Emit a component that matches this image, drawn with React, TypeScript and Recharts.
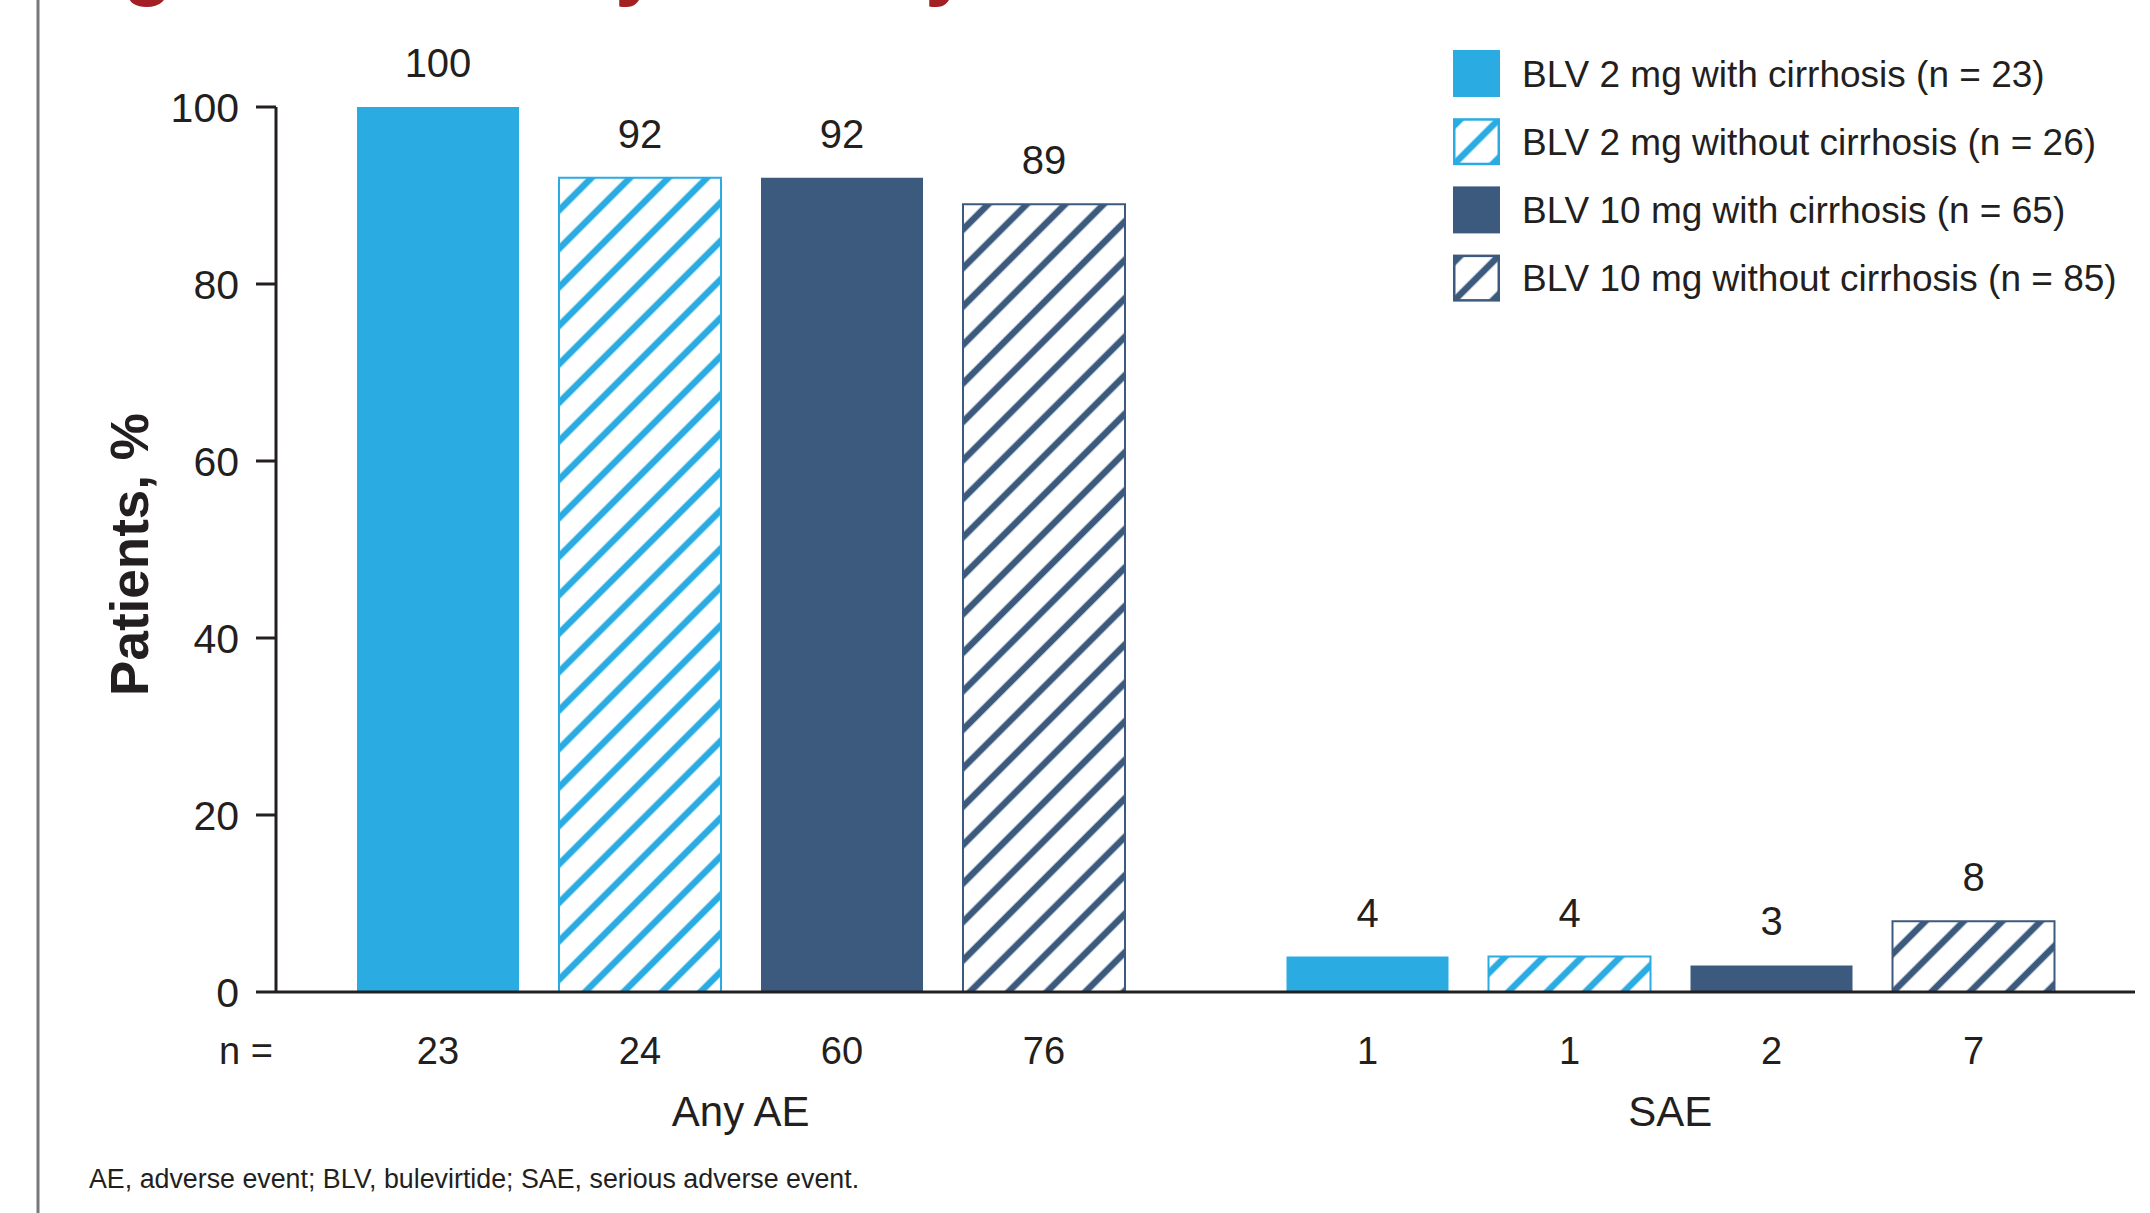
import React from 'react';
import { BarChart, Bar, XAxis, YAxis, LabelList, Legend, Label } from 'recharts';

// Adverse events by bulevirtide dose and cirrhosis status
const categories = ['Any AE', 'SAE'];
const seriesLabels = [
  'BLV 2 mg with cirrhosis (n = 23)',
  'BLV 2 mg without cirrhosis (n = 26)',
  'BLV 10 mg with cirrhosis (n = 65)',
  'BLV 10 mg without cirrhosis (n = 85)',
];
// Patients, %
const blv2WithCirrhosis = [100, 4];
const blv2WithoutCirrhosis = [92, 4];
const blv10WithCirrhosis = [92, 3];
const blv10WithoutCirrhosis = [89, 8];
// Patients with the event (n =)
const nBlv2WithCirrhosis = [23, 1];
const nBlv2WithoutCirrhosis = [24, 1];
const nBlv10WithCirrhosis = [60, 2];
const nBlv10WithoutCirrhosis = [76, 7];
const yTicks = [0, 20, 40, 60, 80, 100];

const LIGHT = '#2AACE2';
const NAVY = '#3C5A7E';
const INK = '#231F20';
const TITLE_RED = '#A31F24';
const FONT = '"Liberation Sans", Arial, Helvetica, sans-serif';

const STRIPE_PERIOD = 27.2;
const STRIPE_WIDTH = 6.5;

const series = [
  { key: 's1', nKey: 'n1', name: seriesLabels[0], color: LIGHT, hatched: false, values: blv2WithCirrhosis, counts: nBlv2WithCirrhosis },
  { key: 's2', nKey: 'n2', name: seriesLabels[1], color: LIGHT, hatched: true, values: blv2WithoutCirrhosis, counts: nBlv2WithoutCirrhosis },
  { key: 's3', nKey: 'n3', name: seriesLabels[2], color: NAVY, hatched: false, values: blv10WithCirrhosis, counts: nBlv10WithCirrhosis },
  { key: 's4', nKey: 'n4', name: seriesLabels[3], color: NAVY, hatched: true, values: blv10WithoutCirrhosis, counts: nBlv10WithoutCirrhosis },
];

const data = categories.map((category, i) => {
  const row: Record<string, string | number> = { category };
  series.forEach((s) => {
    row[s.key] = s.values[i];
    row[s.nKey] = s.counts[i];
  });
  return row;
});

const hatchId = (color: string) => (color === LIGHT ? 'hatch-light' : 'hatch-navy');

function HatchPattern({ id, color, transform }: { id: string; color: string; transform: string }) {
  return (
    <pattern id={id} patternUnits="userSpaceOnUse" width={STRIPE_PERIOD} height={STRIPE_PERIOD} patternTransform={transform}>
      <rect x={0} y={0} width={STRIPE_PERIOD} height={STRIPE_PERIOD} fill="#fff" />
      <rect x={0} y={0} width={STRIPE_WIDTH / 2} height={STRIPE_PERIOD} fill={color} />
      <rect x={STRIPE_PERIOD - STRIPE_WIDTH / 2} y={0} width={STRIPE_WIDTH / 2} height={STRIPE_PERIOD} fill={color} />
    </pattern>
  );
}

function ValueLabel(props: any) {
  const { x, y, width, value } = props;
  return (
    <text x={Number(x) + Number(width) / 2} y={Number(y) - 30} textAnchor="middle" fontSize={40} fill={INK} fontFamily={FONT}>
      {value}
    </text>
  );
}

function CountLabel(props: any) {
  const { x, y, width, height, value } = props;
  return (
    <text x={Number(x) + Number(width) / 2} y={Number(y) + Number(height) + 71.6} textAnchor="middle" fontSize={38} fill={INK} fontFamily={FONT}>
      {value}
    </text>
  );
}

function GroupTick(props: any) {
  const { x, y, payload } = props;
  return (
    <text x={x} y={y + 134} textAnchor="middle" fontSize={42} fill={INK} fontFamily={FONT}>
      {payload.value}
    </text>
  );
}

function CountRowTitle(props: any) {
  const { viewBox } = props;
  return (
    <text x={viewBox.x - 3} y={viewBox.y + 71.6} textAnchor="end" fontSize={38} fill={INK} fontFamily={FONT}>
      n =
    </text>
  );
}

function YTitle(props: any) {
  const { viewBox } = props;
  const cx = 148;
  const cy = viewBox.y + viewBox.height / 2 + 5;
  return (
    <text x={cx} y={cy} transform={`rotate(-90 ${cx} ${cy})`} textAnchor="middle" fontSize={53} fontWeight="bold" fill={INK} fontFamily={FONT}>
      Patients, %
    </text>
  );
}

function LegendContent() {
  const box = 47;
  const rowGap = 68.2;
  const first = 23.5;
  return (
    <svg width={697} height={262} style={{ display: 'block' }}>
      <defs>
        {series.map((s, i) =>
          s.hatched ? (
            <HatchPattern key={s.key} id={`legend-${s.key}`} color={s.color} transform={`translate(${box / 2} ${first + i * rowGap}) rotate(45)`} />
          ) : null
        )}
      </defs>
      {series.map((s, i) => {
        const cy = first + i * rowGap;
        return (
          <g key={s.key}>
            {s.hatched ? (
              <rect x={1.25} y={cy - box / 2 + 1.25} width={box - 2.5} height={box - 2.5} fill={`url(#legend-${s.key})`} stroke={s.color} strokeWidth={2.5} />
            ) : (
              <rect x={0} y={cy - box / 2} width={box} height={box} fill={s.color} />
            )}
            <text x={69} y={cy + 13} fontSize={37} fill={INK} fontFamily={FONT}>
              {s.name}
            </text>
          </g>
        );
      })}
    </svg>
  );
}

export default function App() {
  return (
    <div style={{ position: 'absolute', left: 0, top: 0, width: 2150, height: 1213, overflow: 'hidden', background: '#fff' }}>
      <BarChart
        width={2150}
        height={1213}
        data={data}
        margin={{ top: 107, right: 15, bottom: 0, left: 0 }}
        barSize={162}
        barGap={40}
      >
        <defs>
          <HatchPattern id="hatch-light" color={LIGHT} transform="rotate(45)" />
          <HatchPattern id="hatch-navy" color={NAVY} transform="rotate(45)" />
        </defs>
        <XAxis
          dataKey="category"
          height={221}
          tickSize={0}
          tickMargin={0}
          tickLine={false}
          interval={0}
          axisLine={{ stroke: INK, strokeWidth: 3 }}
          tick={<GroupTick />}
        >
          <Label content={<CountRowTitle />} />
        </XAxis>
        <YAxis
          domain={[0, 100]}
          ticks={yTicks}
          interval={0}
          width={276}
          tickSize={20}
          tickMargin={17}
          axisLine={{ stroke: INK, strokeWidth: 3 }}
          tickLine={{ stroke: INK, strokeWidth: 3 }}
          tick={{ fontSize: 41, fill: INK, fontFamily: FONT }}
        >
          <Label content={<YTitle />} />
        </YAxis>
        <Legend
          layout="vertical"
          align="center"
          verticalAlign="middle"
          content={<LegendContent />}
          wrapperStyle={{ position: 'absolute', left: 1453, top: 50, width: 697, height: 262 }}
        />
        {series.map((s) => (
          <Bar
            key={s.key}
            dataKey={s.key}
            name={s.name}
            fill={s.hatched ? `url(#${hatchId(s.color)})` : s.color}
            stroke={s.hatched ? s.color : 'none'}
            strokeWidth={s.hatched ? 2 : 0}
            isAnimationActive={false}
          >
            <LabelList dataKey={s.key} content={<ValueLabel />} />
            <LabelList dataKey={s.nKey} content={<CountLabel />} />
          </Bar>
        ))}
      </BarChart>
      <svg width={2150} height={1213} style={{ position: 'absolute', left: 0, top: 0, pointerEvents: 'none' }}>
        <text x={50} y={-10} fontSize={82} fontWeight="bold" fill={TITLE_RED} fontFamily={FONT}>
          Figure 2. Safety data by cirrhosis status
        </text>
        <line x1={38} y1={0} x2={38} y2={1213} stroke="#77787B" strokeWidth={3} />
        <text x={89} y={1188} fontSize={26.8} fill={INK} fontFamily={FONT}>
          AE, adverse event; BLV, bulevirtide; SAE, serious adverse event.
        </text>
      </svg>
    </div>
  );
}
